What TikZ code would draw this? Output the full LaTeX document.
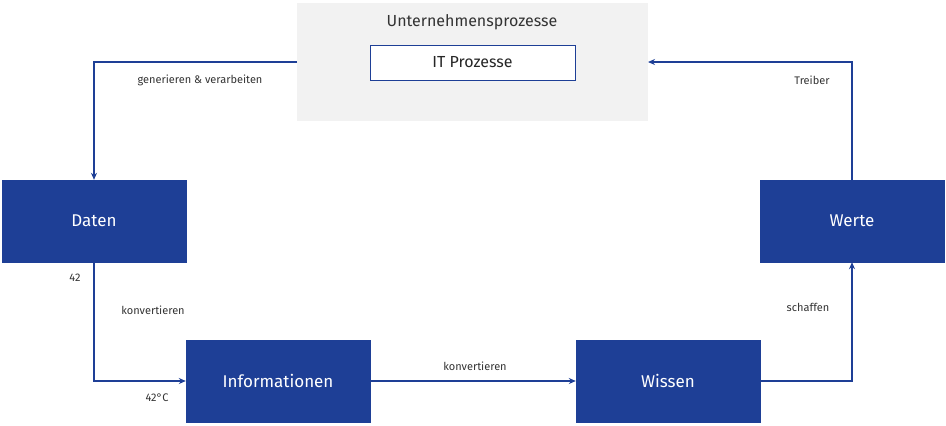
\documentclass[tikz,border=0pt]{standalone}
\usepackage{fontspec}
\setmainfont{Fira Sans}
\usetikzlibrary{arrows.meta}
\definecolor{bl}{HTML}{1E3F96}
\definecolor{gr}{HTML}{F2F2F2}
\begin{document}
\begin{tikzpicture}[x=1pt,y=-1pt,
  bbox/.style={draw=bl,fill=bl,text=white,minimum width=184pt,minimum height=82pt,inner sep=0pt,font=\fontsize{17}{20}\selectfont},
  lab/.style={font=\fontsize{11}{13}\selectfont\color{black!80},inner sep=1pt},
  conn/.style={draw=bl,line width=1.6pt,-{Stealth[length=7pt,width=6pt]}}]
\useasboundingbox (0,0) rectangle (946,426);
\fill[gr] (297,3) rectangle (648,121);
\node[font=\fontsize{16}{19}\selectfont,text=black!80] (up) at (472,22) {Unternehmensprozesse};
\node[draw=bl,fill=white,line width=0.8pt,minimum width=205pt,minimum height=35pt,inner sep=0pt,font=\fontsize{16}{19}\selectfont,text=black!85] (it) at (472.5,62.5) {IT Prozesse};
\coordinate (gl) at (297,62);
\coordinate (grr) at (648,62);
\node[bbox] (daten) at (94,221) {Daten};
\node[bbox] (werte) at (852,221) {Werte};
\node[bbox] (info) at (278,381) {Informationen};
\node[bbox] (wissen) at (668,381) {Wissen};
\draw[conn] (gl) -| (daten.north);
\draw[conn] (werte.north) |- (grr);
\draw[conn] (daten.south) |- (info.west);
\draw[conn] (info.east) -- (wissen.west);
\draw[conn] (wissen.east) -| (werte.south);
\node[lab] (l1) at (200,80) {generieren \& verarbeiten};
\node[lab] (l2) at (812,80) {Treiber};
\node[lab] (l3) at (75,278) {42};
\node[lab] (l4) at (153,310) {konvertieren};
\node[lab] (l5) at (157,398) {42°C};
\node[lab] (l6) at (475,366) {konvertieren};
\node[lab] (l7) at (808,307) {schaffen};
\end{tikzpicture}
\end{document}
